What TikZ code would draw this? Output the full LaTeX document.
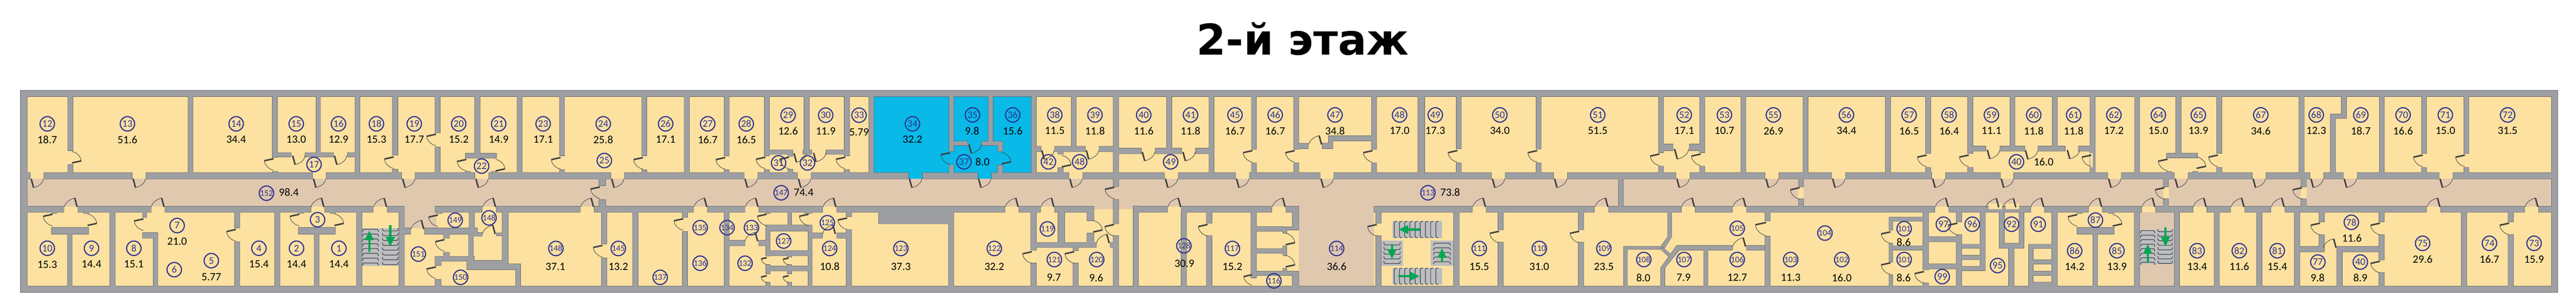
\documentclass[tikz,border=0pt]{standalone}
\usepackage{fontspec}
\setmainfont{Carlito}
\newfontfamily\titlefont{DejaVu Sans}
\usetikzlibrary{arrows.meta}

\definecolor{wallgray}{RGB}{157,159,162}
\definecolor{walledge}{RGB}{98,99,102}
\definecolor{roomyellow}{RGB}{253,225,160}
\definecolor{hallbeige}{RGB}{224,200,175}
\definecolor{roomblue}{RGB}{9,185,232}
\definecolor{numblue}{RGB}{46,49,146}
\definecolor{leafdark}{RGB}{65,64,66}
\definecolor{stairgray}{RGB}{188,190,192}
\definecolor{arrowgreen}{RGB}{0,166,81}

\tikzset{
  leaf/.style={draw=leafdark,line width=4pt},
  swing/.style={draw=leafdark,line width=1.2pt},
  stair/.style={draw=leafdark,line width=1.7pt,rounded corners=4pt},
  runarrow/.style={draw=arrowgreen,line width=6pt,-{Triangle[length=26pt,width=23pt]}},
  roomno/.style={circle,draw=numblue,line width=3pt,minimum size=39pt,inner sep=0pt,text=numblue,font=\fontsize{27}{27}\selectfont},
  roomnoc/.style={roomno,font=\fontsize{23}{23}\selectfont},
  areatxt/.style={inner sep=0pt,font=\fontsize{30}{30}\selectfont},
}

% door leaf with its swing, hinge at (#2,#3)
\newcommand{\doorL}[3][1]{\draw[leaf,shift={(#2,#3)},scale=#1] (0,0) -- (-25,5.5); \draw[swing,shift={(#2,#3)},scale=#1] (-25,5.5) .. controls (-24,18) and (-12,29) .. (0,31);}
\newcommand{\doorR}[3][1]{\draw[leaf,shift={(#2,#3)},scale=#1] (0,0) -- (25,-5.5); \draw[swing,shift={(#2,#3)},scale=#1] (25,-5.5) .. controls (24,-18) and (12,-29) .. (0,-31);}
\newcommand{\doorD}[3][1]{\draw[leaf,shift={(#2,#3)},scale=#1] (0,0) -- (6.5,24); \draw[swing,shift={(#2,#3)},scale=#1] (6.5,24) .. controls (18,21) and (32,14) .. (33,0);}
\newcommand{\doorU}[3][1]{\draw[leaf,shift={(#2,#3)},scale=#1] (0,0) -- (-6.5,-24); \draw[swing,shift={(#2,#3)},scale=#1] (-6.5,-24) .. controls (-18,-21) and (-33,-12) .. (-34,0);}
% stair steps
\newcommand{\stepU}[3]{\draw[stair,shift={(#1,#2)}] (0,-7) -- (0,0) -- (#3,0) -- (#3,-7);}
\newcommand{\stepN}[3]{\draw[stair,shift={(#1,#2)}] (0,7) -- (0,0) -- (#3,0) -- (#3,7);}
\newcommand{\stepC}[3]{\draw[stair,shift={(#1,#2)}] (7,0) -- (0,0) -- (0,#3) -- (7,#3);}

% every wall of the floor, corridor walls first
\newcommand{\wallplan}{
  (55.5,244) rectangle (6898.4,260) (55.5,772) rectangle (6898.4,788)
  (55.5,244) rectangle (73.3,788) (6882.5,244) rectangle (6898.4,788)
  (73,466) rectangle (81,482) (118.6,466) rectangle (356,482) (394,466) rectangle (842.5,482)
  (880,466) rectangle (1083,482) (1120,466) rectangle (1280.6,482) (1319,466) rectangle (1646.7,482)
  (1685,466) rectangle (2006.4,482) (2044.6,466) rectangle (2150.5,482) (2188.8,466) rectangle (2450,482)
  (2488.5,466) rectangle (2636.5,482) (2674.7,466) rectangle (2882.6,482) (2921,466) rectangle (3140.3,482)
  (3178.6,466) rectangle (3332,482) (3370.5,466) rectangle (3560,482) (3598,466) rectangle (4022.3,482)
  (4060.6,466) rectangle (4190,482) (4228.3,466) rectangle (4519.8,482) (4558.7,466) rectangle (4760.2,482)
  (4798.5,466) rectangle (4940,482) (4978.3,466) rectangle (5209.8,482) (5248,466) rectangle (5394.8,482)
  (5431.8,466) rectangle (5684.3,482) (5722.6,466) rectangle (5864,482) (5902.4,466) rectangle (6074,482)
  (6112.3,466) rectangle (6230,482) (6268.3,466) rectangle (6319.8,482) (6358,466) rectangle (6578.3,482)
  (6616.5,466) rectangle (6883,482)
  (73,557) rectangle (172,572) (210.5,557) rectangle (407,572) (445,557) rectangle (838,572)
  (876,557) rectangle (1006,572) (1045,557) rectangle (1090.5,572) (1173.5,557) rectangle (1300,572)
  (1339,557) rectangle (1564.4,572) (1603.3,557) rectangle (1870,572) (1908.8,557) rectangle (2009,572)
  (2047,557) rectangle (2218,572) (2257,557) rectangle (2710.4,572) (2748.7,557) rectangle (2806,572)
  (2845,557) rectangle (2950,572) (3067.6,557) rectangle (3148.6,572) (3186.9,557) rectangle (3429.8,572)
  (3468.8,557) rectangle (3502.6,572) (3706,557) rectangle (3970.6,572) (4009,557) rectangle (4299.7,572)
  (4339.3,557) rectangle (4534.4,572) (4572.7,557) rectangle (4672.2,572) (4711,557) rectangle (5218,572)
  (5257,557) rectangle (5476.4,572) (5514.7,557) rectangle (5632.6,572) (5671,557) rectangle (5776,572)
  (5814.4,557) rectangle (5914.5,572) (5952.8,557) rectangle (6016.2,572) (6055,557) rectangle (6124.4,572)
  (6163.2,557) rectangle (6544.5,572) (6583.3,557) rectangle (6808.7,572) (6847.5,557) rectangle (6883,572)
  % upper rooms, left part
  (183.7,260) rectangle (196.4,406) (183.7,444) rectangle (196.4,466) (507.7,260) rectangle (520.4,466)
  (735,260) rectangle (748,424) (735,463) rectangle (748,466) (748,412) rectangle (785,423)
  (823,412) rectangle (899,423) (937.5,412) rectangle (958,423) (853,260) rectangle (864,412)
  (958,260) rectangle (970,466) (1059,260) rectangle (1073,418) (1059,457) rectangle (1073,466)
  (1173.5,260) rectangle (1187,358) (1173.5,397) rectangle (1187,466) (1280.6,260) rectangle (1294.6,414)
  (1255.7,414) rectangle (1339,426) (1255.7,463) rectangle (1267.8,466) (1326.9,463) rectangle (1339,466)
  (1395.4,260) rectangle (1408,466) (1509.6,260) rectangle (1522.3,420) (1509.6,458) rectangle (1522.3,466)
  (1731.5,260) rectangle (1744,420) (1731.5,458) rectangle (1744,466) (1845.7,260) rectangle (1859,466)
  (1953.4,260) rectangle (1966,420) (1953.4,458) rectangle (1966,466)
  (2062,260) rectangle (2075,420) (2062,458) rectangle (2075,466) (2075,404.8) rectangle (2138,415.5)
  (2125,415.5) rectangle (2138,421) (2125,457) rectangle (2138,466) (2166,404.8) rectangle (2189,415.5)
  (2228,404.8) rectangle (2277.4,415.5) (2169,260) rectangle (2182.4,405)
  (2277.4,260) rectangle (2290.8,420) (2277.4,458) rectangle (2290.8,466) (2343.7,260) rectangle (2356.5,466)
  % blue rooms
  (2560,260) rectangle (2572,408) (2560,445) rectangle (2572,466) (2665.8,260) rectangle (2678,381.3)
  (2572,381.3) rectangle (2609.7,392) (2648,381.3) rectangle (2704.7,392) (2691,392) rectangle (2704.7,408)
  (2691,446) rectangle (2704.7,466) (2782,260) rectangle (2794.6,466)
  % upper rooms, middle part
  (2889.7,260) rectangle (2902.4,395) (2794.6,395) rectangle (2807.4,408.3) (2845,395) rectangle (2926.6,408.3)
  (2965,395) rectangle (3003,408.3) (2854,408.3) rectangle (2867.4,415) (2854,452.8) rectangle (2867.4,466)
  (3003,260) rectangle (3016.6,466) (3016,400) rectangle (3078,414) (3116.7,400) rectangle (3186.9,414)
  (3225,400) rectangle (3261.5,414) (3147,260) rectangle (3160,400) (3261.5,260) rectangle (3274,466)
  (3375.6,260) rectangle (3388.4,402.4) (3375.6,440) rectangle (3388.4,466)
  (3489.8,260) rectangle (3502.6,402.4) (3489.8,440) rectangle (3502.6,466)
  (3699.6,260) rectangle (3712.4,402.4) (3699.6,440) rectangle (3712.4,466)
  (3583.5,366.7) rectangle (3699.6,379.4) (3583.5,366.7) rectangle (3594.4,400.4) (3567,386.5) rectangle (3594.4,400.4)
  (3502.6,387.3) rectangle (3528,400.4) (3824.6,260) rectangle (3842.5,467)
  (3928,260) rectangle (3940.7,401) (3928,440) rectangle (3940.7,466)
  (4143.5,260) rectangle (4156,401.6) (4143.5,440) rectangle (4156,466)
  (4473.9,260) rectangle (4486.6,411.5) (4473.9,449) rectangle (4486.6,466)
  (4584.8,260) rectangle (4597.6,411.5) (4584.8,449) rectangle (4597.6,466)
  (4486.6,389) rectangle (4512,406) (4556.8,389) rectangle (4584.8,406)
  (4695.8,260) rectangle (4708.6,466) (4863.5,260) rectangle (4876.3,466) (5085.5,260) rectangle (5098.9,466)
  (5193.9,260) rectangle (5207.3,413.5) (5193.9,452) rectangle (5207.3,466)
  (5307.4,260) rectangle (5320.8,413.5) (5307.4,452) rectangle (5320.8,466)
  (5421.6,260) rectangle (5434.3,394.4) (5535.7,260) rectangle (5548.5,394.4) (5320.8,394.4) rectangle (5355.9,407)
  (5394.8,394.4) rectangle (5461,407) (5497.4,394.4) rectangle (5569.5,407) (5605.9,394.4) rectangle (5637.8,407)
  (5637.8,260) rectangle (5650.5,466) (5757.7,260) rectangle (5770.4,466)
  (5868.6,258) rectangle (5882.7,414) (5843.7,413.5) rectangle (5927.3,425.4) (5843.7,463) rectangle (5855.8,466)
  (5915,463) rectangle (5927.3,466) (5979,260) rectangle (5992.3,413) (5979,452) rectangle (5992.3,466)
  (6200.8,260) rectangle (6214,466) (6315.4,260) rectangle (6328.7,319) (6285.5,308) rectangle (6328.7,319)
  (6285.5,308) rectangle (6298.8,466) (6417.9,260) rectangle (6430.6,466)
  (6531.8,260) rectangle (6544.5,413.5) (6531.8,452) rectangle (6544.5,466)
  (6645.7,260) rectangle (6658.5,413.5) (6645.7,452) rectangle (6658.5,466)
  % corridor dividers
  (1615.4,482) rectangle (1633.3,500.4) (1615.4,538.5) rectangle (1633.3,557)
  (3003,482) rectangle (3016.6,503) (3003,539) rectangle (3016.6,603) (3003,636) rectangle (3016.6,772)
  (4365.4,482) rectangle (4378.2,557) (4851.4,482) rectangle (4864.2,503.6) (4851.4,536.5) rectangle (4864.2,557)
  (5835.5,482) rectangle (5848.2,503.6) (5835.5,536.5) rectangle (5848.2,557)
  (6206.5,482) rectangle (6220.5,503.6) (6206.5,536.5) rectangle (6220.5,557)
  % lower rooms, left part
  (139,572) rectangle (152,575) (226,572) rectangle (238.5,575) (139,613.5) rectangle (238.5,631)
  (182.4,631) rectangle (194,772) (296.5,572) rectangle (310.6,772) (385,572) rectangle (395,586)
  (385,628) rectangle (425,642) (414,642) rectangle (425,772) (633,572) rectangle (646,614.6)
  (633,653) rectangle (646,772) (741,572) rectangle (754.5,772) (805,572) rectangle (818,575)
  (891,572) rectangle (904,575) (805,613.5) rectangle (904,631) (848,631) rectangle (860,772)
  (962,572) rectangle (976,772) (1076.5,572) rectangle (1090.5,772) (1090.5,615.5) rectangle (1107,631.4)
  (1145.4,615.5) rectangle (1287,631.4) (1179,572) rectangle (1191,576) (1266,572) rectangle (1279.3,615.5)
  (1355,572) rectangle (1370.5,712) (1266,628) rectangle (1300,636.4) (1339,628.6) rectangle (1355,635.6)
  (1196.4,631) rectangle (1211.7,642) (1196.4,681) rectangle (1211.7,694) (1264.7,631) rectangle (1276,704)
  (1173.5,692) rectangle (1279,704) (1173.5,694) rectangle (1189.4,716) (1173.5,754.4) rectangle (1189.4,772)
  (1259.6,703) rectangle (1370.5,727) (1370.5,712) rectangle (1403.7,727) (1391,727) rectangle (1403.7,772)
  (1622.4,572) rectangle (1636.5,658) (1622.4,696) rectangle (1636.5,772) (1707,572) rectangle (1720.7,772)
  (1840.6,570) rectangle (1854,586) (1840.6,625) rectangle (1854,773) (1953.4,572) rectangle (1966,773)
  (1966,648.4) rectangle (2009,662.3) (2047,648.4) rectangle (2065.7,662.3)
  (2065.7,572) rectangle (2076.5,575) (2171,572) rectangle (2190,575) (2125.6,572) rectangle (2134.6,607.5)
  (2065.7,607.5) rectangle (2190,622.6) (2065.7,622.6) rectangle (2076.5,690) (2180,622.6) rectangle (2190,772)
  (2065.7,676) rectangle (2190,689) (2065.7,718) rectangle (2190,730.6) (2124.4,689) rectangle (2134.6,693)
  (2124.4,714) rectangle (2134.6,718) (2065.7,714) rectangle (2076.5,718) (2065.7,730.6) rectangle (2076.5,738)
  (2124.4,730.6) rectangle (2134.6,738) (2065.7,761.5) rectangle (2076.5,772) (2124.4,761.5) rectangle (2134.6,772)
  (2190,628.6) rectangle (2218,641.7) (2257,628.6) rectangle (2282.5,641.7) (2282.5,572) rectangle (2296.6,584)
  (2282.5,620) rectangle (2296.6,772) (2370,572) rectangle (2558.7,602.8) (2558.7,572) rectangle (2572,772)
  (2780.6,572) rectangle (2794.6,675) (2780.6,710) rectangle (2794.6,772) (2854,572) rectangle (2871,654.5)
  (2932,572) rectangle (2950,594.8) (2932,629) rectangle (2950,654.5) (2794.6,654.5) rectangle (2956.6,667)
  (2995,654.5) rectangle (3003,667) (2894.8,667) rectangle (2908,675.4) (2894.8,710) rectangle (2908,772)
  % lower rooms, middle part
  (3056.8,556) rectangle (3070,772) (3186,572) rectangle (3199.6,772) (3254.5,572) rectangle (3268.5,601.6)
  (3254.5,635.7) rectangle (3268.5,772) (3374.4,572) rectangle (3388.4,749.6) (3486,572) rectangle (3502.6,620)
  (3388,611.5) rectangle (3460.5,623.4) (3460.5,612.7) rectangle (3502.6,620) (3460.5,612.7) rectangle (3470,628.6)
  (3388,671.4) rectangle (3470,683) (3460.5,663.5) rectangle (3470,689) (3388,731.7) rectangle (3502.6,742.5)
  (3460.5,724) rectangle (3470,742.5) (3486,731.7) rectangle (3502.6,772)
  (3711,572) rectangle (3725,601.6) (3711,635.7) rectangle (3725,772) (3921,572) rectangle (3935,772)
  (4040.8,572) rectangle (4054.2,619.4) (4040.8,653.6) rectangle (4054.2,772)
  (4257,572) rectangle (4271,619.4) (4257,653.6) rectangle (4271,772)
  (4498.7,572) -- (4508.3,572) -- (4508.3,638.5) -- (4489.8,668) -- (4479.6,665) -- (4498.7,638.5) -- cycle
  (4379.5,665) rectangle (4479.6,672.2) (4379.5,665) rectangle (4389,774.6)
  (4485,668) -- (4510,690) -- (4504,695) -- (4480,672) -- cycle
  (4523,662.3) -- (4672,662.3) -- (4672,674.2) -- (4529.3,674.2) -- (4489.8,722.6) -- (4489.8,772) -- (4479.6,772) -- (4479.6,722.6) -- cycle
  (4595.7,674) rectangle (4605.9,772) (4711,662.3) rectangle (4760,674.2)
  (4760.8,572) rectangle (4774.2,594.8) (4760.8,637.7) rectangle (4774.2,772)
  % lower rooms, right part
  (5095.7,585.7) rectangle (5186.9,596) (5095.7,596) rectangle (5104.6,620.6) (5095.7,656.3) rectangle (5104.6,706)
  (5095.7,741) rectangle (5104.6,772) (5095.7,663.5) rectangle (5186.9,674.2)
  (5186.9,572) rectangle (5200.9,727.8) (5186.9,763.5) rectangle (5200.9,772)
  (5200.9,638.5) rectangle (5276.8,651.6) (5200.9,712) rectangle (5276.8,725)
  (5276.8,572) rectangle (5290.8,598) (5276.8,633.3) rectangle (5290.8,772) (5341,572) rectangle (5354,729.8)
  (5290.8,659) rectangle (5341,669.4) (5290.8,689) rectangle (5341,700) (5290.8,719) rectangle (5354,729.8)
  (5392.9,572) rectangle (5405.6,656.3) (5446.4,572) rectangle (5458.6,656.3) (5392.9,656.3) rectangle (5458.6,669.4)
  (5417.7,669) rectangle (5431.8,772) (5472,659) rectangle (5483.4,772) (5472,659) rectangle (5534.4,669.8)
  (5472,701) rectangle (5534.4,712) (5472,731.7) rectangle (5534.4,742.5) (5472,761.5) rectangle (5534.4,772)
  (5534.4,572) rectangle (5548.5,772) (5602.7,572) rectangle (5615.5,575) (5688.7,572) rectangle (5701.5,575)
  (5602.7,613.5) rectangle (5701.5,631) (5645.4,631) rectangle (5656.9,772) (5757,572) rectangle (5770.4,772)
  (5864.8,572) rectangle (5878.2,772) (5972.6,572) rectangle (5986,772) (6086.9,572) rectangle (6100.9,772)
  (6188.7,572) rectangle (6202.7,772) (6254.9,572) rectangle (6268.9,598) (6254.9,633.3) rectangle (6268.9,679)
  (6202.7,665) rectangle (6268.9,679) (6303.3,665) rectangle (6416.6,679) (6303.3,679) rectangle (6317.3,772)
  (6416.6,572) rectangle (6430.6,598) (6416.6,633.3) rectangle (6430.6,700.8) (6416.6,735.7) rectangle (6430.6,772)
  (6638.8,572) rectangle (6652.7,772) (6764.8,572) rectangle (6778.8,598) (6764.8,633.3) rectangle (6778.8,772)
}

\begin{document}
\begin{tikzpicture}[x=1pt,y=1pt,yscale=-1,xscale=1]
  \useasboundingbox (0,0) rectangle (6948,822);

  \node [anchor=base,inner sep=0pt,font=\fontsize{114.5}{114.5}\titlefont\bfseries] (title) at (3513.8,148) {2-й этаж};

  % floors
  \fill [roomyellow] (60,250) rectangle (6890,780);
  \fill [hallbeige] (60,482) rectangle (6890,557);
  \fill [hallbeige] (1090.5,557) rectangle (1177,615);
  \fill [hallbeige] (2950,557) rectangle (3070,564.3);
  \fill [hallbeige] (3502.6,557) rectangle (3706,772);
  \fill [hallbeige] (5770.4,572) rectangle (5864.8,772);
  \fill [roomblue] (2356.5,260) rectangle (2782,482);
  \fill [roomyellow] (4850,503.6) rectangle (4865.4,536.5);
  \fill [roomyellow] (5834.5,503.6) rectangle (5849.5,536.5);
  \fill [roomyellow] (6205.5,503.6) rectangle (6221.5,536.5);

  % stair blocks
  \fill [stairgray] (976.7,615) rectangle (1076.7,717.7);
  \fill [stairgray] (3756,596) rectangle (3889.3,641.7);
  \fill [stairgray] (3756,722) rectangle (3889.3,767.3);
  \fill [stairgray] (3725,649.3) rectangle (3784,717.7);
  \fill [stairgray] (3858.7,649.3) rectangle (3921,717.7);
  \fill [stairgray] (5770.4,619.4) rectangle (5864.8,712.7);

  % walls
  \draw [walledge,line width=2pt] \wallplan;
  \fill [wallgray] \wallplan;
  \fill [roomyellow] (5637.8,413) rectangle (5644,452);
  \fill [roomyellow] (5363.3,548.3) rectangle (5400,564.3);
  \fill [roomyellow] (5409,548.3) rectangle (5446,564.3);

  % doors of the upper rooms
  \doorR{194}{439.5} \doorL{738}{428} \doorD{789.5}{420} \doorD{902}{420}
  \doorL{1062}{423.4} \doorL{1176}{362} \doorL{1258}{430} \doorR{1337}{461}
  \doorL{1512}{425} \doorL{1734}{425} \doorL{1956}{425} \doorL{2064.4}{424}
  \doorL{2128}{424} \doorD{2141.6}{413.5} \doorD{2194.5}{412.3} \doorL{2280}{424}
  \doorL{2562.5}{412} \doorD{2613.5}{389.7} \doorR{2701.5}{442} \doorD{2810}{405.5}
  \doorR{2864}{450} \doorD{2930}{405.5} \doorD{3081}{410} \doorD{3190.7}{410}
  \doorL{3378}{406.3} \doorL{3492}{406.3} \doorU{3564.4}{389.7} \doorL{3702}{406.3}
  \doorL{3930.6}{406.3} \doorL{4146}{406.3} \doorL{4476}{415.5} \doorD[1.15]{4516.6}{401.6}
  \doorL{4587}{415.5} \doorL{5196.4}{418.3} \doorL{5310}{418.3} \doorD{5360.3}{404.4}
  \doorD{5463}{405.5} \doorD{5575.9}{404.4} \doorL{5640.5}{418.3} \doorL{5846.3}{429.4}
  \doorR{5924.7}{454} \doorL{5982}{418.3} \doorL{6534.5}{418.3} \doorL{6648.3}{418.3}

  % doors from the corridor, upper side
  \doorD{84}{482} \doorD{359}{482} \doorD{845.5}{482} \doorD{1086}{482} \doorD{1283.6}{482}
  \doorD{1649.7}{482} \doorD{2009.4}{482} \doorD{2153.5}{482} \doorD{2453}{482} \doorD{2639.5}{482}
  \doorD{2885.6}{482} \doorD{3143.3}{482} \doorD{3335}{482} \doorD{3563}{482} \doorD{4025.3}{482}
  \doorD{4193}{482} \doorD{4522.8}{482} \doorD{4763.2}{482} \doorD{4943}{482} \doorD{5212.8}{482}
  \doorD{5397.8}{482} \doorD{5687.3}{482} \doorD{5867}{482} \doorD{6077}{482} \doorD{6233}{482}
  \doorD{6322.8}{482} \doorD{6581.3}{482}

  % doors from the corridor, lower side
  \doorU{208}{558} \doorU{442.5}{558} \doorU{873.5}{558} \doorU{1042.5}{558} \doorU{1336.5}{558}
  \doorU{1600.8}{558} \doorU{1906.3}{558} \doorU{2044.5}{558} \doorU{2254.5}{558} \doorU{2746.2}{558}
  \doorU{2842.5}{558} \doorU{3184.4}{558} \doorU{3466.3}{558} \doorU{4006.5}{558} \doorU{4336.8}{558}
  \doorU{4570.2}{558} \doorU{4708.5}{558} \doorU{5254.5}{558} \doorU{5391}{559} \doorU{5437}{559}
  \doorU{5512.2}{558} \doorU{5668.5}{558} \doorU{5811.9}{558} \doorU{5950.3}{558} \doorU{6052.5}{558}
  \doorU{6160.7}{558} \doorU{6580.8}{558} \doorU{6845}{558}

  % doors across the corridor
  \doorL{1618}{504.4} \doorL{3005.5}{505} \doorL{4854}{506.3} \doorL{5838}{506.3} \doorL{6209}{506.3}

  % doors of the lower rooms
  \doorL{141.5}{578} \doorR{236}{608} \doorL{387}{590.5} \doorL{636}{619} \doorL{807}{578} \doorR{902}{608}
  \doorU{1143}{618} \doorL{1181}{580} \doorL{1199}{646.4} \doorL{1176}{720} \doorU{1335.5}{631}
  \doorL{1625}{662} \doorL{1843}{590} \doorU{2043.4}{650.4} \doorL{2068}{577.8} \doorL{2181}{577.8}
  \doorL[0.6]{2068}{695} \doorL[0.6]{2127}{696} \doorL[0.6]{2068}{743.7} \doorL[0.6]{2127}{743.7}
  \doorU{2253}{631} \doorL{2285}{588} \doorL{2783}{679} \doorL{2897.3}{679} \doorR{2948.3}{625.8}
  \doorU{2991.7}{655.6} \doorL{3005}{605.6} \doorL{3257}{605.6} \doorL[0.9]{3377}{741}
  \doorR{3467.5}{660} \doorR{3467.5}{719.8} \doorL{3713.6}{605.6} \doorL{4043.4}{623.8}
  \doorL{4259.6}{623.8} \doorU{4708}{665} \doorL[1.15]{4763.4}{600} \doorL{5098.9}{625.4}
  \doorL{5098.9}{709} \doorL{5189.4}{732.5} \doorL{5279.3}{602} \doorL{5602.7}{579} \doorR{5698.3}{609.5}
  \doorL{6257.4}{602} \doorU{6300.7}{668} \doorL{6419.1}{602} \doorL{6419.1}{704.8} \doorL{6767.3}{602}

  % steps and run arrows
  \stepN{978.3}{618.3}{42} \stepN{978.3}{631.3}{42} \stepN{978.3}{644.3}{42} \stepN{978.3}{657.3}{42}
  \stepN{978.3}{670.3}{42} \stepN{978.3}{683.3}{42} \stepN{978.3}{696.3}{42} \stepN{978.3}{709.3}{42}
  \stepU{1031.7}{622.7}{41.6} \stepU{1031.7}{635.7}{41.6} \stepU{1031.7}{648.7}{41.6} \stepU{1031.7}{661.7}{41.6}
  \stepU{1031.7}{674.7}{41.6} \stepU{1031.7}{687.7}{41.6} \stepU{1031.7}{700.7}{41.6} \stepU{1031.7}{713.7}{41.6}
  \draw [runarrow] (996,679.3) -- (996,621.7);
  \draw [runarrow] (1052.7,606.7) -- (1052.7,665);
  \stepC{3760.7}{597.3}{43.4} \stepC{3774.7}{597.3}{43.4} \stepC{3788.7}{597.3}{43.4} \stepC{3802.7}{597.3}{43.4}
  \stepC{3816.7}{597.3}{43.4} \stepC{3830.7}{597.3}{43.4} \stepC{3844.7}{597.3}{43.4} \stepC{3858.7}{597.3}{43.4}
  \stepC{3872.7}{597.3}{43.4}
  \stepC{3760.7}{723.3}{43.4} \stepC{3774.7}{723.3}{43.4} \stepC{3788.7}{723.3}{43.4} \stepC{3802.7}{723.3}{43.4}
  \stepC{3816.7}{723.3}{43.4} \stepC{3830.7}{723.3}{43.4} \stepC{3844.7}{723.3}{43.4} \stepC{3858.7}{723.3}{43.4}
  \stepC{3872.7}{723.3}{43.4}
  \stepU{3732.7}{660.7}{44} \stepU{3732.7}{673.2}{44} \stepU{3732.7}{685.7}{44} \stepU{3732.7}{698.2}{44} \stepU{3732.7}{710.7}{44}
  \stepN{3866.7}{656}{45} \stepN{3866.7}{668.5}{45} \stepN{3866.7}{681}{45} \stepN{3866.7}{693.5}{45} \stepN{3866.7}{706}{45}
  \draw [runarrow] (3829.3,619) -- (3772.3,619);
  \draw [runarrow] (3772,745) -- (3829,745);
  \draw [runarrow] (3754.3,659.3) -- (3754.3,698.3);
  \draw [runarrow] (3889.3,707.7) -- (3889.3,669.3);
  \stepN{5773.6}{622}{38} \stepN{5773.6}{634.2}{38} \stepN{5773.6}{646.4}{38} \stepN{5773.6}{658.6}{38}
  \stepN{5773.6}{670.8}{38} \stepN{5773.6}{683}{38} \stepN{5773.6}{695.2}{38} \stepN{5773.6}{707.4}{38}
  \stepU{5820.3}{625}{38.7} \stepU{5820.3}{637.2}{38.7} \stepU{5820.3}{649.4}{38.7} \stepU{5820.3}{661.6}{38.7}
  \stepU{5820.3}{673.8}{38.7} \stepU{5820.3}{686}{38.7} \stepU{5820.3}{698.2}{38.7} \stepU{5820.3}{710.4}{38.7}
  \draw [runarrow] (5792.7,709) -- (5792.7,658.3);
  \draw [runarrow] (5840.6,612.7) -- (5840.6,665);

  % room numbers and areas, upper row
  \node [roomno] (n12) at (127.5,334) {12};       \node [areatxt] (a12) at (127.5,376.5) {18.7};
  \node [roomno] (n13) at (343.7,334) {13};       \node [areatxt] (a13) at (343.7,376.5) {51.6};
  \node [roomno] (n14) at (637,334) {14};         \node [areatxt] (a14) at (637,376.5) {34.4};
  \node [roomno] (n15) at (799,334) {15};         \node [areatxt] (a15) at (799,376.5) {13.0};
  \node [roomno] (n16) at (913,334) {16};         \node [areatxt] (a16) at (913,376.5) {12.9};
  \node [roomno] (n18) at (1015.3,334) {18};      \node [areatxt] (a18) at (1015.3,376.5) {15.3};
  \node [roomno] (n19) at (1117.3,334) {19};      \node [areatxt] (a19) at (1117.3,376.5) {17.7};
  \node [roomno] (n20) at (1237.2,334) {20};      \node [areatxt] (a20) at (1237.2,376.5) {15.2};
  \node [roomno] (n21) at (1345,334) {21};        \node [areatxt] (a21) at (1345,376.5) {14.9};
  \node [roomno] (n23) at (1465,334) {23};        \node [areatxt] (a23) at (1465,376.5) {17.1};
  \node [roomno] (n24) at (1627,334) {24};        \node [areatxt] (a24) at (1627,376.5) {25.8};
  \node [roomno] (n26) at (1795.3,334) {26};      \node [areatxt] (a26) at (1795.3,376.5) {17.1};
  \node [roomno] (n27) at (1908.8,334) {27};      \node [areatxt] (a27) at (1908.8,376.5) {16.7};
  \node [roomno] (n28) at (2012.8,334) {28};      \node [areatxt] (a28) at (2012.8,376.5) {16.5};
  \node [roomno] (n29) at (2125.6,310.7) {29};    \node [areatxt] (a29) at (2125.6,353.6) {12.6};
  \node [roomno] (n30) at (2227,310.7) {30};      \node [areatxt] (a30) at (2227,353.6) {11.9};
  \node [roomno] (n33) at (2317,310.7) {33};      \node [areatxt] (a33) at (2317,356) {5.79};
  \node [roomno] (n34) at (2461,334) {34};        \node [areatxt] (a34) at (2461,376.6) {32.2};
  \node [roomno] (n35) at (2623,310) {35};        \node [areatxt] (a35) at (2622,352.8) {9.8};
  \node [roomno] (n36) at (2731.5,310) {36};      \node [areatxt] (a36) at (2731.5,352.8) {15.6};
  \node [roomno] (n38) at (2845,310) {38};        \node [areatxt] (a38) at (2845,352.8) {11.5};
  \node [roomno] (n39) at (2953.4,310) {39};      \node [areatxt] (a39) at (2953.4,352.8) {11.8};
  \node [roomno] (n40) at (3084.8,310) {40};      \node [areatxt] (a40) at (3084.8,352.8) {11.6};
  \node [roomno] (n41) at (3211,310) {41};        \node [areatxt] (a41) at (3211,352.8) {11.8};
  \node [roomno] (n45) at (3331,310) {45};        \node [areatxt] (a45) at (3331,352.8) {16.7};
  \node [roomno] (n46) at (3439.4,310) {46};      \node [areatxt] (a46) at (3439.4,352.8) {16.7};
  \node [roomno] (n47) at (3600.8,310) {47};      \node [areatxt] (a47) at (3600.8,352.8) {34.8};
  \node [roomno] (n48) at (3774.9,310) {48};      \node [areatxt] (a48) at (3774.9,352.8) {17.0};
  \node [roomno] (n49) at (3871.2,310) {49};      \node [areatxt] (a49) at (3871.2,352.8) {17.3};
  \node [roomno] (n50) at (4045.3,310) {50};      \node [areatxt] (a50) at (4045.3,352.8) {34.0};
  \node [roomno] (n51) at (4309.3,310) {51};      \node [areatxt] (a51) at (4309.3,352.8) {51.5};
  \node [roomno] (n52) at (4542.7,310) {52};      \node [areatxt] (a52) at (4542.7,352.8) {17.1};
  \node [roomno] (n53) at (4651.1,310) {53};      \node [areatxt] (a53) at (4651.1,352.8) {10.7};
  \node [roomno] (n55) at (4783.2,310) {55};      \node [areatxt] (a55) at (4783.2,352.8) {26.9};
  \node [roomno] (n56) at (4980.2,310) {56};      \node [areatxt] (a56) at (4980.2,352.8) {34.4};
  \node [roomno] (n57) at (5149.2,310) {57};      \node [areatxt] (a57) at (5149.2,352.8) {16.5};
  \node [roomno] (n58) at (5257,310) {58};        \node [areatxt] (a58) at (5257,352.8) {16.4};
  \node [roomno] (n59) at (5371.2,310) {59};      \node [areatxt] (a59) at (5371.2,352.8) {11.1};
  \node [roomno] (n60) at (5485.3,310) {60};      \node [areatxt] (a60) at (5485.3,352.8) {11.8};
  \node [roomno] (n61) at (5593,310) {61};        \node [areatxt] (a61) at (5593,352.8) {11.8};
  \node [roomno] (n62) at (5701.5,310) {62};      \node [areatxt] (a62) at (5701.5,352.8) {17.2};
  \node [roomno] (n64) at (5821.4,310) {64};      \node [areatxt] (a64) at (5821.4,352.8) {15.0};
  \node [roomno] (n65) at (5929.2,310) {65};      \node [areatxt] (a65) at (5929.2,352.8) {13.9};
  \node [roomno] (n67) at (6097.7,310) {67};      \node [areatxt] (a67) at (6097.7,352.8) {34.6};
  \node [roomno] (n68) at (6247.3,310) {68};      \node [areatxt] (a68) at (6247.3,352.8) {12.3};
  \node [roomno] (n69) at (6367.6,310) {69};      \node [areatxt] (a69) at (6367.6,352.8) {18.7};
  \node [roomno] (n70) at (6481.5,310) {70};      \node [areatxt] (a70) at (6481.5,352.8) {16.6};
  \node [roomno] (n71) at (6595.5,310) {71};      \node [areatxt] (a71) at (6595.5,352.8) {15.0};
  \node [roomno] (n72) at (6763.5,310) {72};      \node [areatxt] (a72) at (6763.5,352.8) {31.5};

  % vestibules of the upper row
  \node [roomno] (n17) at (847,443.6) {17};
  \node [roomno] (n22) at (1299,448) {22};
  \node [roomno] (n25) at (1630,433) {25};
  \node [roomno] (n31) at (2100,439.3) {31};
  \node [roomno] (n32) at (2178,439.3) {32};
  \node [roomno] (n37) at (2600,436.5) {37};      \node [areatxt] (a37) at (2650,436.5) {8.0};
  \node [roomno] (n42) at (2827.8,436.5) {42};
  \node [roomno] (n48b) at (2912,436.5) {48};
  \node [roomno] (n49b) at (3157.5,436.5) {49};
  \node [roomno] (n40b) at (5438.8,436.5) {40};   \node [areatxt] (a40b) at (5512,436.5) {16.0};

  % corridors
  \node [roomnoc] (n152) at (718.7,521) {152};    \node [areatxt] (a152) at (779,519) {98.4};
  \node [roomnoc] (n147) at (2107,520) {147};     \node [areatxt] (a147) at (2167.7,519) {74.4};
  \node [roomnoc] (n113) at (3851.4,520) {113};   \node [areatxt] (a113) at (3911.4,519) {73.8};

  % lower row
  \node [roomno] (n10) at (127.5,669.6) {10};     \node [areatxt] (a10) at (127.5,713) {15.3};
  \node [roomno] (n9) at (246.8,669.6) {9};       \node [areatxt] (a9) at (246.8,713) {14.4};
  \node [roomno] (n8) at (361,669.6) {8};         \node [areatxt] (a8) at (361,713) {15.1};
  \node [roomno] (n7) at (477.7,608.3) {7};       \node [areatxt] (a7) at (477.7,651.8) {21.0};
  \node [roomno] (n6) at (470,727.3) {6};
  \node [roomno] (n5) at (570,703) {5};           \node [areatxt] (a5) at (570,746.7) {5.77};
  \node [roomno] (n4) at (698.3,669.6) {4};       \node [areatxt] (a4) at (698.3,713) {15.4};
  \node [roomno] (n3) at (856.5,592.6) {3};
  \node [roomno] (n2) at (799.7,669.6) {2};       \node [areatxt] (a2) at (799.7,713) {14.4};
  \node [roomno] (n1) at (914,669.6) {1};         \node [areatxt] (a1) at (914,713) {14.4};
  \node [roomnoc] (n149) at (1227.7,594) {149};
  \node [roomnoc] (n148b) at (1319,587.7) {148};
  \node [roomnoc] (n151) at (1128.2,685.3) {151};
  \node [roomnoc] (n150) at (1242.3,748) {150};
  \node [roomnoc] (n148) at (1499.4,670.2) {148}; \node [areatxt] (a148) at (1498,719) {37.1};
  \node [roomnoc] (n145) at (1667.7,670.2) {145}; \node [areatxt] (a145) at (1667.7,719) {13.2};
  \node [roomnoc] (n137) at (1780.6,748) {137};
  \node [roomnoc] (n135) at (1888.4,614) {135};
  \node [roomnoc] (n136) at (1888.4,710) {136};
  \node [roomnoc] (n134) at (1961,614) {134};
  \node [roomnoc] (n133) at (2026.8,614) {133};
  \node [roomnoc] (n132) at (2009.6,710) {132};
  \node [roomnoc] (n127) at (2113.5,650) {127};
  \node [roomnoc] (n125) at (2231.5,600.8) {125};
  \node [roomnoc] (n124) at (2237.9,670.2) {124}; \node [areatxt] (a124) at (2238,719) {10.8};
  \node [roomnoc] (n123) at (2429.8,670.2) {123}; \node [areatxt] (a123) at (2429.8,719) {37.3};
  \node [roomnoc] (n122) at (2681.8,670.2) {122}; \node [areatxt] (a122) at (2681.8,719) {32.2};
  \node [roomnoc] (n119) at (2825,617.5) {119};
  \node [roomnoc] (n121) at (2843.8,700) {121};   \node [areatxt] (a121) at (2842.5,749) {9.7};
  \node [roomnoc] (n120) at (2958,700) {120};     \node [areatxt] (a120) at (2956.6,749) {9.6};
  \node [roomnoc] (n128) at (3193.2,663) {128};   \node [areatxt] (a128) at (3194.5,711) {30.9};
  \node [roomnoc] (n117) at (3324,670.2) {117};   \node [areatxt] (a117) at (3324,719) {15.2};
  \node [roomnoc] (n116) at (3436,757.5) {116};
  \node [roomnoc] (n114) at (3605.2,670.2) {114}; \node [areatxt] (a114) at (3605.2,719) {36.6};
  \node [roomnoc] (n111) at (3989.8,670.2) {111}; \node [areatxt] (a111) at (3989.8,719) {15.5};
  \node [roomnoc] (n110) at (4151.8,670.2) {110}; \node [areatxt] (a110) at (4151.8,719) {31.0};
  \node [roomnoc] (n109) at (4325.9,670.2) {109}; \node [areatxt] (a109) at (4325.9,719) {23.5};
  \node [roomnoc] (n108) at (4433.7,700) {108};   \node [areatxt] (a108) at (4432.4,749) {8.0};
  \node [roomnoc] (n107) at (4542,700) {107};     \node [areatxt] (a107) at (4541,749) {7.9};
  \node [roomnoc] (n106) at (4685.6,700) {106};   \node [areatxt] (a106) at (4685.6,749) {12.7};
  \node [roomnoc] (n105) at (4685.6,615.9) {105};
  \node [roomnoc] (n104) at (4922.2,628.6) {104};
  \node [roomnoc] (n103) at (4829.7,700) {103};   \node [areatxt] (a103) at (4829.7,749) {11.3};
  \node [roomnoc] (n102) at (4967.5,700) {102};   \node [areatxt] (a102) at (4967.5,749) {16.0};
  \node [roomnoc] (n101) at (5135.8,616.7) {101}; \node [areatxt] (a101) at (5134.6,653.6) {8.6};
  \node [roomnoc] (n101b) at (5135.8,700) {101};  \node [areatxt] (a101b) at (5134.6,749.6) {8.6};
  \node [roomno] (n97) at (5241.7,604.8) {97};
  \node [roomno] (n96) at (5319.5,604.8) {96};
  \node [roomno] (n92) at (5425.4,604.8) {92};
  \node [roomno] (n91) at (5497.4,604.8) {91};
  \node [roomno] (n95) at (5387.8,716.3) {95};
  \node [roomno] (n99) at (5238.5,746) {99};
  \node [roomno] (n87) at (5651.8,593.7) {87};
  \node [roomno] (n86) at (5595.7,676.2) {86};    \node [areatxt] (a86) at (5595.7,718.7) {14.2};
  \node [roomno] (n85) at (5709.8,676.2) {85};    \node [areatxt] (a85) at (5709.8,718.7) {13.9};
  \node [roomno] (n83) at (5926,676.2) {83};      \node [areatxt] (a83) at (5926,718.7) {13.4};
  \node [roomno] (n82) at (6039.8,676.2) {82};    \node [areatxt] (a82) at (6039.8,719) {11.6};
  \node [roomno] (n81) at (6142.2,676.2) {81};    \node [areatxt] (a81) at (6142.2,719) {15.4};
  \node [roomno] (n78) at (6342,599.6) {78};      \node [areatxt] (a78) at (6343.4,642.9) {11.6};
  \node [roomno] (n77) at (6251.7,706.8) {77};    \node [areatxt] (a77) at (6251,749.6) {9.8};
  \node [roomno] (n40c) at (6366.3,706.8) {40};   \node [areatxt] (a40c) at (6366.3,749.6) {8.9};
  \node [roomno] (n75) at (6534.3,656.3) {75};    \node [areatxt] (a75) at (6534.3,699.2) {29.6};
  \node [roomno] (n74) at (6714.5,656.3) {74};    \node [areatxt] (a74) at (6714.5,699.2) {16.7};
  \node [roomno] (n73) at (6834.8,656.3) {73};    \node [areatxt] (a73) at (6834.8,699.2) {15.9};

\end{tikzpicture}
\end{document}
